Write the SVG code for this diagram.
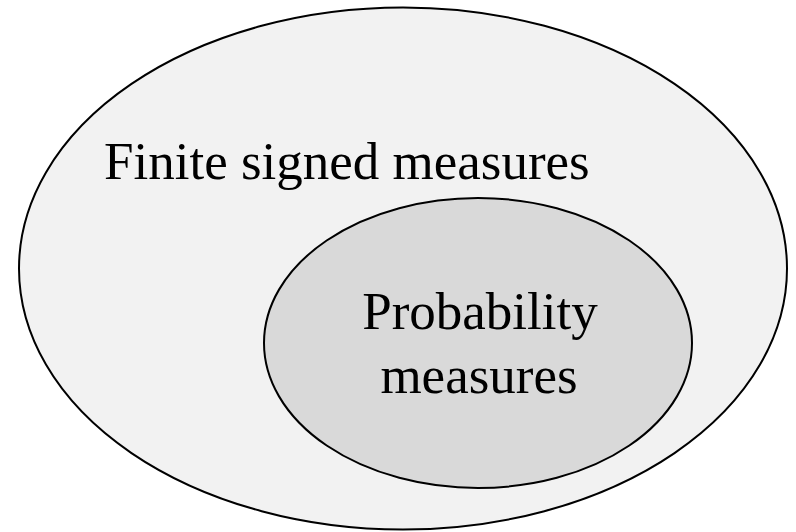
<svg xmlns="http://www.w3.org/2000/svg" width="796" height="532" viewBox="0 0 796 532">
<style>
.set{stroke:#000;stroke-width:2}
.lbl{font-family:"Liberation Serif","Times New Roman",serif;font-size:53px;fill:#000}
</style>
<rect width="796" height="532" fill="#fff"/>
<g id="finite-signed-measures">
<ellipse class="set" cx="403" cy="268.5" rx="384" ry="261" fill="#f2f2f2"/>
<text class="lbl" x="104" y="179">Finite signed measures</text>
</g>
<g id="probability-measures">
<ellipse class="set" cx="478" cy="343" rx="214" ry="145" fill="#d9d9d9"/>
<text class="lbl" text-anchor="middle" x="480" y="329">Probability</text>
<text class="lbl" text-anchor="middle" x="479" y="393">measures</text>
</g>
<g id="connectors"/>
</svg>
